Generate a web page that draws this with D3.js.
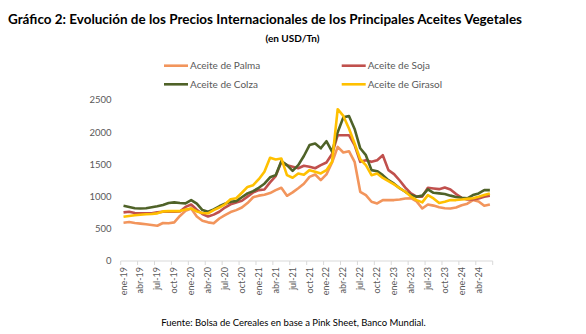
<!DOCTYPE html>
<html lang="es">
<head>
<meta charset="utf-8">
<script src="https://cdn.jsdelivr.net/npm/d3@7"></script>
<style>
  html, body { margin: 0; padding: 0; background: #ffffff; }
  #chart { width: 586px; height: 334px; }
  text { font-family: Lato, "Open Sans", sans-serif; }
</style>
</head>
<body>
<div id="chart"><svg width="586" height="334"></svg></div>
<script>
// Meses ene-19 .. jun-24
const mesesCortos = ["ene", "feb", "mar", "abr", "may", "jun", "jul", "ago", "sep", "oct", "nov", "dic"];
const anios = ["19", "20", "21", "22", "23", "24"];
const meses = [];
anios.forEach(a => mesesCortos.forEach(m => meses.push(`${m}-${a}`)));
meses.splice(66); // la serie termina en jun-24

const yTicks = [0, 500, 1000, 1500, 2000, 2500];

// Precios en USD/Tn
const palma = [
  594, 605, 590, 580, 570, 560, 548, 590, 585, 600, 700, 780,
  815, 690, 625, 600, 585, 660, 713, 760, 790, 830, 900, 990,
  1015, 1030, 1055, 1100, 1137, 1013, 1065, 1130, 1200, 1307, 1343, 1256,
  1345, 1530, 1772, 1685, 1705, 1540, 1075, 1023, 920, 894, 946, 946,
  946, 955, 970, 975, 925, 816, 878, 860, 835, 820, 815, 830,
  865, 890, 946, 925, 858, 878
];
const soja = [
  755, 765, 745, 740, 740, 740, 755, 765, 765, 765, 770, 840,
  878, 795, 730, 690, 720, 765, 830, 880, 910, 935, 1000, 1065,
  1100, 1111, 1220, 1318, 1540, 1488, 1463, 1440, 1478, 1463, 1440, 1488,
  1530, 1660, 1953, 1953, 1953, 1800, 1540, 1566, 1540, 1566, 1643, 1411,
  1350, 1250, 1140, 1050, 1000, 1000, 1137, 1127, 1116, 1142, 1111, 1040,
  980, 955, 955, 972, 997, 1013
];
const colza = [
  858, 840, 820, 815, 820, 835, 850, 870, 900, 910, 900, 895,
  946, 890, 790, 765, 800, 850, 890, 920, 930, 990, 1050, 1085,
  1137, 1200, 1300, 1333, 1550, 1488, 1400, 1488, 1630, 1800, 1824, 1750,
  1860, 1700, 2000, 2230, 2250, 2050, 1750, 1643, 1411, 1395, 1333, 1256,
  1200, 1130, 1075, 1023, 997, 1015, 1111, 1059, 1050, 1040, 1015, 995,
  982, 972, 1023, 1049, 1100, 1100
];
const girasol = [
  687, 700, 710, 718, 725, 730, 740, 770, 775, 775, 775, 800,
  816, 770, 745, 740, 790, 830, 880, 960, 975, 1060, 1150, 1178,
  1270, 1385, 1602, 1576, 1592, 1333, 1292, 1359, 1340, 1411, 1385, 1359,
  1411, 1540, 2357, 2253, 2057, 1824, 1580, 1488, 1333, 1359, 1290, 1240,
  1190, 1130, 1075, 1000, 946, 910, 1023, 972, 900, 920, 946, 946,
  956, 965, 975, 997, 1023, 1049
];

const series = [
  { name: "Aceite de Palma", values: palma, color: "#F2955C" },
  { name: "Aceite de Soja", values: soja, color: "#C0504D" },
  { name: "Aceite de Colza", values: colza, color: "#4F6228" },
  { name: "Aceite de Girasol", values: girasol, color: "#FFC000" }
];

document.addEventListener("DOMContentLoaded", function () {
  const svg = d3.select("#chart svg");

  // Titulo y subtitulo
  svg.append("text")
    .attr("x", 265).attr("y", 24)
    .attr("text-anchor", "middle")
    .attr("font-size", 14).attr("font-weight", "bold")
    .attr("fill", "#000")
    .attr("textLength", 514).attr("lengthAdjust", "spacingAndGlyphs")
    .text("Gráfico 2: Evolución de los Precios Internacionales de los Principales Aceites Vegetales");

  svg.append("text")
    .attr("x", 292.5).attr("y", 41.5)
    .attr("text-anchor", "middle")
    .attr("font-size", 10).attr("font-weight", "bold")
    .attr("fill", "#000")
    .text("(en USD/Tn)");

  // Escalas
  const x = d3.scaleBand().domain(meses).range([120.7, 492.7]).paddingInner(0);
  const y = d3.scaleLinear().domain([0, 2500]).range([261, 100]);
  const cx = m => x(m) + x.bandwidth() / 2;

  // Eje Y: solo etiquetas, sin linea
  svg.append("g")
    .selectAll("text")
    .data(yTicks)
    .enter()
    .append("text")
    .attr("x", 111.5)
    .attr("y", d => y(d))
    .attr("dy", "0.35em")
    .attr("text-anchor", "end")
    .attr("font-size", 9.5)
    .attr("fill", "#595959")
    .text(d => d);

  // Eje X: linea base, marcas cada tres meses y etiquetas verticales
  const ejeX = svg.append("g");
  ejeX.append("line")
    .attr("x1", x.range()[0]).attr("x2", x.range()[1])
    .attr("y1", y(0)).attr("y2", y(0))
    .attr("stroke", "#d9d9d9").attr("stroke-width", 1);

  const marcas = meses.filter((m, i) => i % 3 === 0).map(m => x(m)).concat([x.range()[1]]);
  ejeX.selectAll(".marca")
    .data(marcas)
    .enter()
    .append("line")
    .attr("class", "marca")
    .attr("x1", d => d).attr("x2", d => d)
    .attr("y1", y(0)).attr("y2", y(0) + 4)
    .attr("stroke", "#d9d9d9");

  ejeX.selectAll(".etiqueta")
    .data(meses.filter((m, i) => i % 3 === 0))
    .enter()
    .append("text")
    .attr("class", "etiqueta")
    .attr("transform", d => `translate(${cx(d) + 3},${y(0) + 6}) rotate(-90)`)
    .attr("text-anchor", "end")
    .attr("font-size", 9)
    .attr("fill", "#595959")
    .text(d => d);

  // Lineas de cada aceite
  const linea = d3.line()
    .x((d, i) => cx(meses[i]))
    .y(d => y(d));

  svg.selectAll(".serie")
    .data(series)
    .enter()
    .append("path")
    .attr("class", "serie")
    .attr("d", d => linea(d.values))
    .attr("fill", "none")
    .attr("stroke", d => d.color)
    .attr("stroke-width", 2.6)
    .attr("stroke-linejoin", "round");

  // Leyenda en dos columnas
  const leyenda = svg.selectAll(".leyenda")
    .data(series)
    .enter()
    .append("g")
    .attr("class", "leyenda")
    .attr("transform", (d, i) => `translate(${i % 2 === 0 ? 164 : 341.7},${i < 2 ? 65.7 : 84.3})`);

  leyenda.append("line")
    .attr("x1", 0).attr("x2", 24)
    .attr("stroke", d => d.color)
    .attr("stroke-width", 2.6);

  leyenda.append("text")
    .attr("x", 26)
    .attr("dy", "0.35em")
    .attr("font-size", 10)
    .attr("fill", "#595959")
    .text(d => d.name);

  // Fuente
  svg.append("text")
    .attr("x", 293.5).attr("y", 326)
    .attr("text-anchor", "middle")
    .attr("font-size", 9.5)
    .attr("fill", "#000")
    .text("Fuente: Bolsa de Cereales en base a Pink Sheet, Banco Mundial.");
});
</script>
</body>
</html>
